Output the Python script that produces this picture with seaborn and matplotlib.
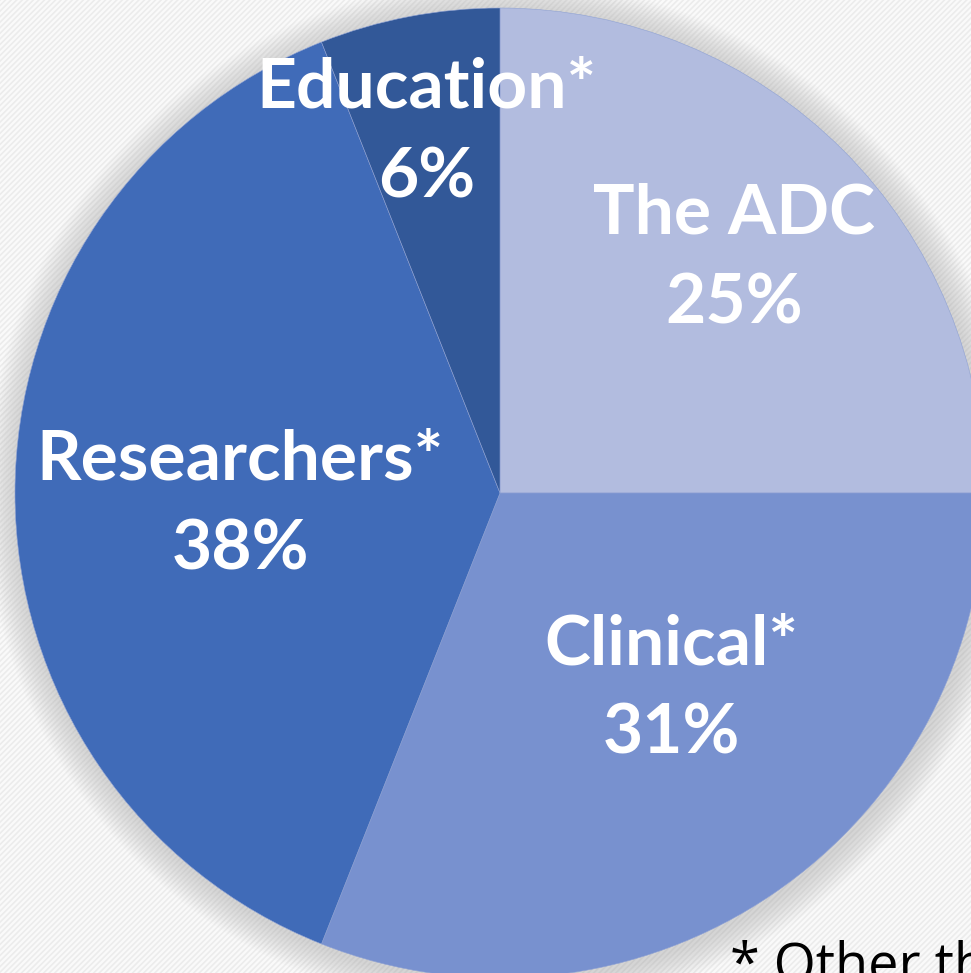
import numpy as np
import seaborn as sns
import matplotlib.pyplot as plt
from matplotlib.patches import Circle, Rectangle

# slice data (clockwise from 12 o'clock)
groups = ['The ADC', 'Clinical*', 'Researchers*', 'Education*']
shares = [25, 31, 38, 6]
colors = ['#b2bcdf', '#7891cf', '#406bb8', '#325898']
footnote = '* Other than ADC'

sns.set_theme(style='white')
plt.rcParams['font.family'] = ['Lato', 'DejaVu Sans']

W, H = 971, 973
fig = plt.figure(figsize=(W / 100, H / 100), dpi=100)
ax = fig.add_axes([0, 0, 1, 1])

# light striped background
fig.patch.set_facecolor('#fafafa')
plt.rcParams['hatch.linewidth'] = 1.2
ax.add_patch(Rectangle((0, 0), W, H, facecolor='#fafafa', edgecolor='#ececec',
                       hatch='//////', lw=0, zorder=0))

cx, cy, R = 500, H - 493, 485

# soft shadow around the pie
for i in range(14):
    ax.add_patch(Circle((cx + 2, cy - 3), R + 3 + i * 2.2, color='#a0a0a0',
                        alpha=0.03, lw=0, zorder=1))

wedges, texts = ax.pie(shares, colors=colors, startangle=90, counterclock=False,
                       center=(cx, cy), radius=R, frame=True,
                       labels=[f'{g}\n{s}%' for g, s in zip(groups, shares)],
                       labeldistance=0.6,
                       wedgeprops=dict(lw=0.4, edgecolor='#8fa2d4', zorder=2),
                       textprops=dict(color='white', fontsize=50, fontweight='bold',
                                      ha='center', va='center', linespacing=1.52))
ax.set_xlim(0, W)
ax.set_ylim(0, H)
ax.set_aspect('equal')
ax.axis('off')

# nudge labels to where they sit in the original (radius fraction, angle shift)
label_r = [0.683, 0.538, 0.536, 0.757]
label_da = [0.0, 6.9, 2.6, 0.7]
for w, t, r, da in zip(wedges, texts, label_r, label_da):
    ang = np.deg2rad((w.theta1 + w.theta2) / 2 + da)
    t.set_position((cx + r * R * np.cos(ang), cy + r * R * np.sin(ang)))
    t.set_ha('center')
    t.set_va('center')
    t.set_zorder(5)

ax.text(730, H - 940, footnote, fontsize=39, color='black', ha='left', va='top',
        fontfamily=['Open Sans', 'DejaVu Sans'], zorder=5)

fig.savefig('out.png', dpi=100, facecolor=fig.get_facecolor())
